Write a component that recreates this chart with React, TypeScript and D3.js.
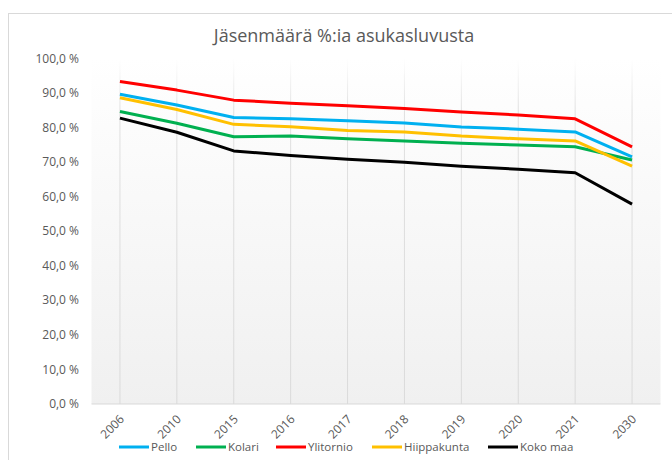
import React, { useEffect, useRef } from 'react';
import * as d3 from 'd3';

const years = ['2006', '2010', '2015', '2016', '2017', '2018', '2019', '2020', '2021', '2030'];
const pello = [89.6, 86.5, 82.9, 82.5, 81.9, 81.3, 80.1, 79.5, 78.7, 71.5];
const kolari = [84.6, 81.2, 77.3, 77.5, 76.7, 76.1, 75.4, 74.9, 74.4, 70.6];
const ylitornio = [93.3, 90.8, 87.9, 87.0, 86.3, 85.5, 84.5, 83.6, 82.5, 74.4];
const hiippakunta = [88.6, 85.2, 80.9, 80.2, 79.1, 78.7, 77.5, 76.7, 76.1, 68.8];
const kokoMaa = [82.7, 78.6, 73.2, 71.9, 70.8, 69.9, 68.8, 67.9, 66.9, 57.8];
const yTicks = [0, 10, 20, 30, 40, 50, 60, 70, 80, 90, 100];

const seriesNames = ['Pello', 'Kolari', 'Ylitornio', 'Hiippakunta', 'Koko maa'];
const seriesValues = [pello, kolari, ylitornio, hiippakunta, kokoMaa];
const colors = ['#00b0f0', '#00b050', '#ff0000', '#ffc000', '#000000'];

const W = 672;
const H = 460;
const FONT = '"Open Sans", sans-serif';
const TEXT = '#595959';

export default function App() {
  const ref = useRef<SVGSVGElement>(null);

  useEffect(() => {
    if (!ref.current) return;
    const svg = d3.select(ref.current);
    svg.selectAll('*').remove();

    const left = 91.5, right = 660.5, top = 58.3, bottom = 404;

    const x = d3.scaleBand().domain(years).range([left, right]).padding(0);
    const y = d3.scaleLinear().domain([0, 100]).range([bottom, top]);
    const cx = (d: string) => (x(d) ?? 0) + x.bandwidth() / 2;
    const fmt = (v: number) => d3.format('.1f')(v).replace('.', ',') + ' %';

    const defs = svg.append('defs');
    const bg = defs.append('linearGradient').attr('id', 'bg')
      .attr('x1', 0).attr('y1', 0).attr('x2', 0).attr('y2', 1);
    bg.append('stop').attr('offset', '0%').attr('stop-color', '#ffffff');
    bg.append('stop').attr('offset', '100%').attr('stop-color', '#f0f0f0');

    const gg = defs.append('linearGradient').attr('id', 'grid')
      .attr('gradientUnits', 'userSpaceOnUse')
      .attr('x1', 0).attr('y1', top).attr('x2', 0).attr('y2', bottom);
    gg.append('stop').attr('offset', '0%').attr('stop-color', '#ffffff');
    gg.append('stop').attr('offset', '15%').attr('stop-color', '#e0e0e0');
    gg.append('stop').attr('offset', '100%').attr('stop-color', '#dadada');

    // chart frame
    svg.append('rect')
      .attr('x', 8.5).attr('y', 13.5).attr('width', 720).attr('height', 520)
      .attr('fill', '#ffffff').attr('stroke', '#d9d9d9');

    // plot area
    svg.append('rect')
      .attr('x', left).attr('y', top).attr('width', right - left).attr('height', bottom - top)
      .attr('fill', 'url(#bg)');

    // vertical gridlines
    svg.append('g').selectAll('line').data(years).enter().append('line')
      .attr('x1', d => cx(d)).attr('x2', d => cx(d))
      .attr('y1', top).attr('y2', bottom)
      .attr('stroke', 'url(#grid)').attr('stroke-width', 1);

    // baseline
    svg.append('line')
      .attr('x1', left).attr('x2', right).attr('y1', y(0)).attr('y2', y(0))
      .attr('stroke', '#d9d9d9').attr('stroke-width', 1);

    // title
    svg.append('text')
      .attr('x', 344).attr('y', 42)
      .attr('text-anchor', 'middle')
      .attr('font-family', FONT).attr('font-size', 18).attr('fill', TEXT)
      .text('Jäsenmäärä %:ia asukasluvusta');

    // y labels
    svg.append('g').selectAll('text').data(yTicks).enter().append('text')
      .attr('x', 79).attr('y', d => y(d)).attr('dy', '0.35em')
      .attr('text-anchor', 'end')
      .attr('font-family', FONT).attr('font-size', 12).attr('fill', TEXT)
      .text(d => fmt(d));

    // x labels
    svg.append('g').selectAll('text').data(years).enter().append('text')
      .attr('transform', d => `translate(${cx(d) + 5},${bottom + 16}) rotate(-45)`)
      .attr('text-anchor', 'end')
      .attr('font-family', FONT).attr('font-size', 12).attr('fill', TEXT)
      .text(d => d);

    // lines
    const line = d3.line<number>()
      .x((_, i) => cx(years[i]))
      .y(d => y(d));
    svg.append('g').selectAll('path').data(seriesValues).enter().append('path')
      .attr('d', d => line(d) ?? '')
      .attr('fill', 'none')
      .attr('stroke', (_, i) => colors[i])
      .attr('stroke-width', 3)
      .attr('stroke-linejoin', 'round');

    // legend
    const legendX = [119, 196, 276, 372, 488];
    const legend = svg.append('g').selectAll('g').data(seriesNames).enter().append('g')
      .attr('transform', (_, i) => `translate(${legendX[i]},447)`);
    legend.append('line')
      .attr('x1', 0).attr('x2', 30).attr('y1', 0).attr('y2', 0)
      .attr('stroke', (_, i) => colors[i]).attr('stroke-width', 3);
    legend.append('text')
      .attr('x', 32).attr('y', 0).attr('dy', '0.35em')
      .attr('font-family', FONT).attr('font-size', 11.5).attr('fill', TEXT)
      .text(d => d);
  }, []);

  return (
    <svg
      ref={ref}
      width={W}
      height={H}
      style={{ position: 'absolute', left: 0, top: 0, display: 'block' }}
    />
  );
}
